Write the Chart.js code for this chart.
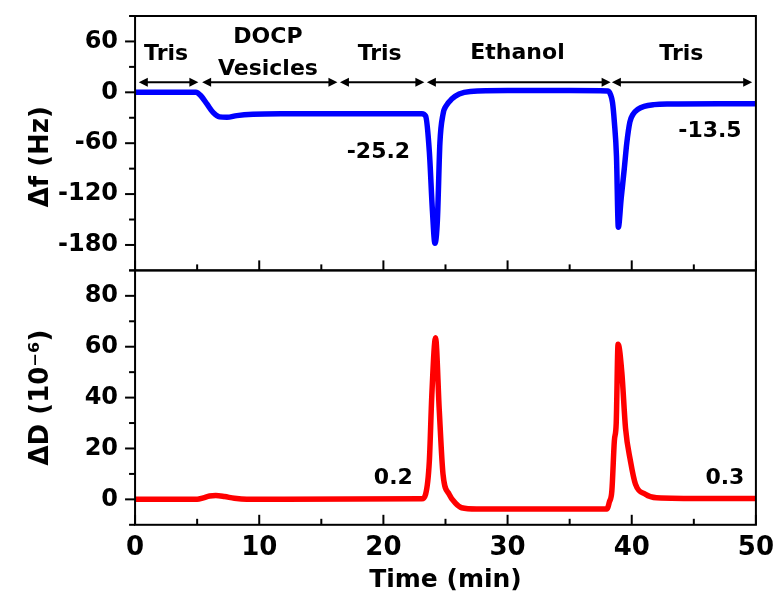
<!DOCTYPE html>
<html>
<head>
<meta charset="utf-8">
<script src="https://cdn.jsdelivr.net/npm/chart.js@4.4.1/dist/chart.umd.min.js"></script>
<style>
  html, body { margin: 0; padding: 0; background: #fff; }
  #wrap { width: 774px; height: 597px; }
</style>
</head>
<body>
<div id="wrap"><canvas id="qcmChart" width="774" height="597"></canvas></div>
<script>
// Frequency shift trace (time in min, delta f in Hz)
const timeF = [0, 4.9, 5.3, 5.8, 6.3, 6.8, 7.4, 8.2, 9.5, 12, 23.1, 23.4, 23.7, 23.95, 24.15, 24.35, 24.55, 24.8, 25.1, 25.5,
  26.1, 27, 30, 35, 38.1, 38.3, 38.45, 38.6, 38.77, 38.92, 39.15, 39.4, 39.6, 39.85, 40.1, 40.5, 41.0, 41.8, 43, 47, 50];
const deltaF = [0, 0, -4, -14, -24, -29, -29.5, -27.5, -26, -25.4, -25.2, -28, -70, -140, -178, -150, -60, -26, -15, -8,
  -2, 1, 2, 2, 1.5, -3, -12, -35, -75, -159, -125, -90, -60, -35, -26, -20, -16.5, -14.5, -13.8, -13.5, -13.5];

// Dissipation trace (time in min, delta D in 1e-6)
const timeD = [0, 5.0, 5.5, 6.0, 6.5, 7.2, 8.0, 9.0, 12, 23.1, 23.4, 23.7, 23.9, 24.2, 24.5, 24.8, 25.3, 25.8, 26.3,
  27.5, 32, 38.0, 38.2, 38.4, 38.6, 38.75, 38.9, 39.2, 39.5, 39.9, 40.3, 41.1, 42, 46, 50];
const deltaD = [0, 0, 0.6, 1.3, 1.5, 1.1, 0.4, 0, 0, 0.2, 2, 15, 41, 63.5, 35, 10, 2, -1.5, -3.3,
  -3.8, -3.8, -3.8, -1, 3.4, 23, 30, 61, 50, 28, 15, 6, 2, 0.6, 0.3, 0.3];

// Buffer phases marked by double arrows above the frequency trace
const phaseStart = [0.3, 5.4, 16.5, 23.5, 38.4];
const phaseEnd = [5.1, 16.3, 23.3, 38.3, 49.7];
const phaseNames = [['Tris'], ['DOCP', 'Vesicles'], ['Tris'], ['Ethanol'], ['Tris']];
const phaseLabelTime = [2.5, 10.7, 19.7, 30.8, 44.0];
const phaseLabelLevel = [[38], [58, 20.4], [38], [39], [38]];
const arrowLevel = 12;

// Final shift values written next to the traces
const shiftText = ['-25.2', '-13.5'];
const shiftTime = [19.6, 46.3];
const shiftLevel = [-77.6, -52.8];
const dissText = ['0.2', '0.3'];
const dissTime = [20.8, 47.5];
const dissLevel = [6.2, 6.2];

const FONT = "'DejaVu Sans', 'Liberation Sans', Arial, sans-serif";

function toPoints(xs, ys) {
    return xs.map((x, i) => ({ x: x, y: ys[i] }));
}

// Frame around each panel plus minor/major tick marks
const frameTicksPlugin = {
    id: 'frameTicks',
    afterDraw(chart) {
        const ctx = chart.ctx;
        const area = chart.chartArea;
        const xs = chart.scales.x;
        ctx.save();
        ctx.strokeStyle = '#000';
        ctx.lineWidth = 2;
        const seg = (x1, y1, x2, y2) => {
            ctx.beginPath();
            ctx.moveTo(x1, y1);
            ctx.lineTo(x2, y2);
            ctx.stroke();
        };
        ['yF', 'yD'].forEach(id => {
            const s = chart.scales[id];
            ctx.strokeRect(area.left, s.top, area.right - area.left, s.bottom - s.top);
            s.ticks.forEach(t => {
                const py = s.getPixelForValue(t.value);
                const len = t.label === '' ? 6 : 10;
                seg(area.left - len, py, area.left, py);
            });
            xs.ticks.forEach(t => {
                const px = xs.getPixelForValue(t.value);
                const len = t.label === '' ? 6 : 10;
                seg(px, s.bottom, px, s.bottom - len);
            });
        });
        ctx.restore();
    }
};

// Phase arrows and value labels
const annotationPlugin = {
    id: 'phaseNotes',
    afterDatasetsDraw(chart) {
        const ctx = chart.ctx;
        const xs = chart.scales.x;
        const yF = chart.scales.yF;
        const yD = chart.scales.yD;
        ctx.save();
        ctx.fillStyle = '#000';
        ctx.strokeStyle = '#000';
        ctx.lineWidth = 2;
        const ay = yF.getPixelForValue(arrowLevel);
        const head = 9, half = 4.5;
        phaseStart.forEach((t0, i) => {
            const x1 = xs.getPixelForValue(t0);
            const x2 = xs.getPixelForValue(phaseEnd[i]);
            ctx.beginPath();
            ctx.moveTo(x1 + head - 1, ay);
            ctx.lineTo(x2 - head + 1, ay);
            ctx.stroke();
            ctx.beginPath();
            ctx.moveTo(x1, ay);
            ctx.lineTo(x1 + head, ay - half);
            ctx.lineTo(x1 + head, ay + half);
            ctx.closePath();
            ctx.fill();
            ctx.beginPath();
            ctx.moveTo(x2, ay);
            ctx.lineTo(x2 - head, ay - half);
            ctx.lineTo(x2 - head, ay + half);
            ctx.closePath();
            ctx.fill();
        });

        ctx.font = 'bold 22px ' + FONT;
        ctx.textAlign = 'center';
        ctx.textBaseline = 'alphabetic';
        phaseNames.forEach((lines, i) => {
            const px = xs.getPixelForValue(phaseLabelTime[i]);
            lines.forEach((txt, j) => {
                ctx.fillText(txt, px, yF.getPixelForValue(phaseLabelLevel[i][j]));
            });
        });
        shiftText.forEach((txt, i) => {
            ctx.fillText(txt, xs.getPixelForValue(shiftTime[i]), yF.getPixelForValue(shiftLevel[i]));
        });
        dissText.forEach((txt, i) => {
            ctx.fillText(txt, xs.getPixelForValue(dissTime[i]), yD.getPixelForValue(dissLevel[i]));
        });
        ctx.restore();
    }
};

const tickFont = { family: FONT, size: 24, weight: 'bold', lineHeight: 1 };
const yTitleFont = { family: FONT, size: 26, weight: 'bold', lineHeight: 1 };
// tick marks are drawn by the plugin; tickLength only reserves room for them
const yGrid = { display: false, drawTicks: true, tickLength: 13 };

const ctx = document.getElementById('qcmChart').getContext('2d');
new Chart(ctx, {
    type: 'line',
    data: {
        datasets: [
            {
                label: 'delta D',
                data: toPoints(timeD, deltaD),
                yAxisID: 'yD',
                borderColor: '#ff0000',
                borderWidth: 5.5,
                pointRadius: 0,
                cubicInterpolationMode: 'monotone'
            },
            {
                label: 'delta f',
                data: toPoints(timeF, deltaF),
                yAxisID: 'yF',
                borderColor: '#0000ff',
                borderWidth: 5.5,
                pointRadius: 0,
                cubicInterpolationMode: 'monotone'
            }
        ]
    },
    options: {
        responsive: false,
        animation: false,
        devicePixelRatio: 1,
        layout: { padding: { left: 20, right: 0, top: 16, bottom: 2 } },
        plugins: { legend: { display: false }, tooltip: { enabled: false } },
        scales: {
            x: {
                type: 'linear',
                min: 0,
                max: 50,
                grid: { display: false, drawTicks: true, tickLength: 8 },
                border: { display: false },
                ticks: {
                    stepSize: 5,
                    autoSkip: false,
                    maxRotation: 0,
                    padding: 0,
                    color: '#000',
                    font: { family: FONT, size: 26, weight: 'bold' },
                    callback: v => (v % 10 === 0 ? v : '')
                },
                title: {
                    display: true,
                    text: 'Time (min)',
                    color: '#000',
                    padding: { top: 1, bottom: 0 },
                    font: { family: FONT, size: 25, weight: 'bold' }
                }
            },
            yD: {
                type: 'linear',
                position: 'left',
                stack: 'panels',
                stackWeight: 1,
                min: -10,
                max: 90,
                grid: yGrid,
                border: { display: false },
                ticks: {
                    stepSize: 10,
                    autoSkip: false,
                    padding: 4,
                    color: '#000',
                    font: tickFont,
                    callback: v => (v % 20 === 0 ? v : '')
                },
                title: {
                    display: true,
                    text: 'ΔD (10⁻⁶)',
                    color: '#000',
                    padding: { top: 8, bottom: 0 },
                    font: yTitleFont
                }
            },
            yF: {
                type: 'linear',
                position: 'left',
                stack: 'panels',
                stackWeight: 1,
                min: -210,
                max: 90,
                grid: yGrid,
                border: { display: false },
                ticks: {
                    stepSize: 30,
                    autoSkip: false,
                    padding: 4,
                    color: '#000',
                    font: tickFont,
                    callback: v => (v % 60 === 0 ? v : '')
                },
                title: {
                    display: true,
                    text: 'Δf (Hz)   ',
                    color: '#000',
                    padding: { top: 8, bottom: 0 },
                    font: yTitleFont
                }
            }
        }
    },
    plugins: [frameTicksPlugin, annotationPlugin]
});
</script>
</body>
</html>
